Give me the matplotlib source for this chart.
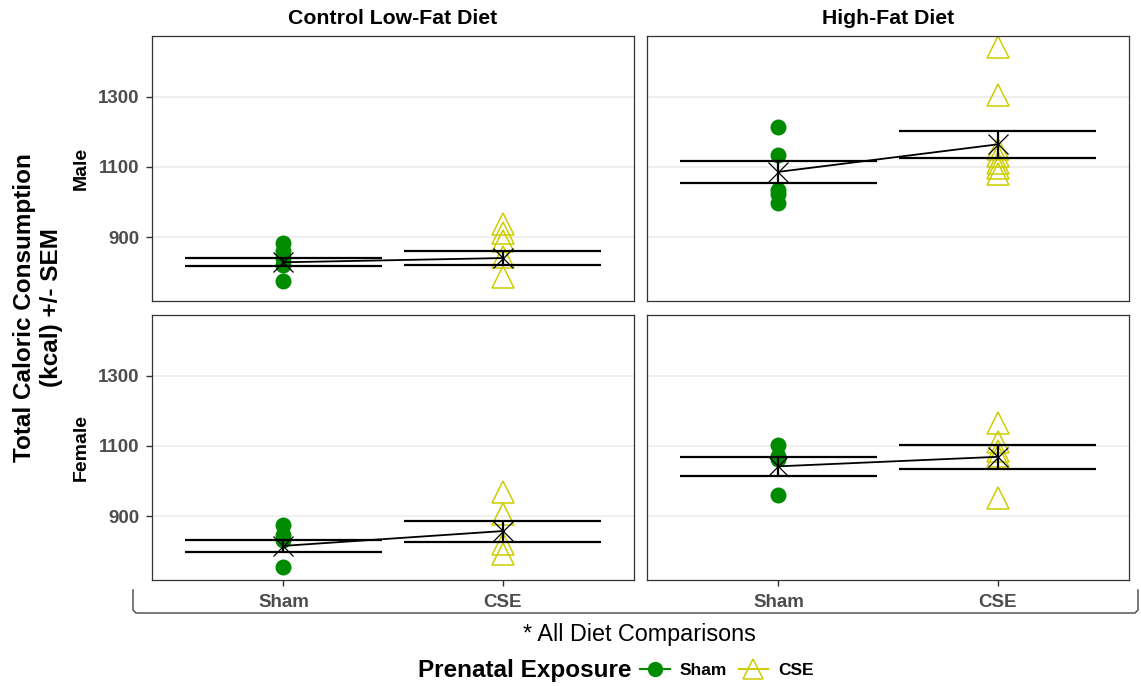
import numpy as np
import matplotlib
matplotlib.use("Agg")
import matplotlib.pyplot as plt
from matplotlib.lines import Line2D

plt.rcParams['font.family'] = ['Liberation Sans', 'DejaVu Sans']

# data
groups = ["Sham", "CSE"]
diets = ["Control Low-Fat Diet", "High-Fat Diet"]
sexes = ["Male", "Female"]

sham_lf_m = [885, 862, 842, 822, 776]
cse_lf_m = [937, 912, 890, 845, 786]
sham_hf_m = [1213, 1133, 1035, 1024, 997]
cse_hf_m = [1440, 1303, 1150, 1130, 1112, 1097, 1080]
sham_lf_f = [875, 848, 832, 755]
cse_lf_f = [968, 906, 820, 792]
sham_hf_f = [1103, 1070, 1062, 960]
cse_hf_f = [1165, 1112, 1085, 1072, 952]

# group means and SEM (from the X marks and bars)
mean_lf_m = [829, 841]
sem_lf_m = [11, 19]
mean_hf_m = [1086, 1164]
sem_hf_m = [31, 38]
mean_lf_f = [816, 858]
sem_lf_f = [17, 30]
mean_hf_f = [1042, 1069]
sem_hf_f = [27, 35]

yticks = [900, 1100, 1300]

GREEN = '#008B00'
YELLOW = '#CDCD00'
TXT = '#4D4D4D'

panels = {
    (0, 0): (sham_lf_m, cse_lf_m, mean_lf_m, sem_lf_m),
    (0, 1): (sham_hf_m, cse_hf_m, mean_hf_m, sem_hf_m),
    (1, 0): (sham_lf_f, cse_lf_f, mean_lf_f, sem_lf_f),
    (1, 1): (sham_hf_f, cse_hf_f, mean_hf_f, sem_hf_f),
}

W, H = 1141, 686
fig = plt.figure(figsize=(W / 100, H / 100), dpi=100)

lefts = [152, 647]
tops = [36, 315]
pw, ph = 482, 265

x = np.arange(1, len(groups) + 1)
for (r, c), (sham, cse, means, sems) in panels.items():
    ax = fig.add_axes([lefts[c] / W, 1 - (tops[r] + ph) / H, pw / W, ph / H])
    ax.set_xlim(0.4, 2.6)
    ax.set_ylim(719, 1472)
    for yv in yticks:
        ax.axhline(yv, color='#EBEBEB', lw=1.1, zorder=0)
    ax.plot(np.full(len(sham), x[0]), sham, 'o', color=GREEN, ms=11.5, mew=0, zorder=2)
    ax.plot(np.full(len(cse), x[1]), cse, '^', mfc='none', mec=YELLOW, ms=15.5, mew=1.1, zorder=2)
    means = np.array(means)
    sems = np.array(sems)
    ax.hlines(means - sems, x - 0.45, x + 0.45, color='black', lw=1.6, zorder=3)
    ax.hlines(means + sems, x - 0.45, x + 0.45, color='black', lw=1.6, zorder=3)
    ax.vlines(x, means - sems, means + sems, color='black', lw=1.6, zorder=3)
    ax.plot(x, means, color='black', lw=1.3, zorder=3)
    ax.plot(x, means, 'x', color='black', ms=14, mew=0.9, zorder=4)

    ax.set_xticks(x)
    ax.set_yticks(yticks)
    ax.tick_params(length=4, width=1, color='#333333', labelcolor=TXT, labelsize=13.5)
    for lab in ax.get_xticklabels() + ax.get_yticklabels():
        lab.set_fontweight('bold')
    if c == 0:
        ax.set_yticklabels([str(v) for v in yticks])
        ax.tick_params(axis='y', pad=5)
    else:
        ax.tick_params(axis='y', left=False, labelleft=False)
    if r == 1:
        ax.set_xticklabels(groups)
        ax.tick_params(axis='x', pad=6)
    else:
        ax.tick_params(axis='x', bottom=False, labelbottom=False)
    for sp in ax.spines.values():
        sp.set_color('#333333')
        sp.set_linewidth(0.9)

    if r == 0:
        fig.text((lefts[c] + pw / 2) / W, 1 - 19 / H, diets[c], ha='center', va='center',
                 fontsize=15.3, fontweight='bold')
    if c == 0:
        fig.text(81 / W, 1 - (tops[r] + ph / 2) / H, sexes[r], rotation=90, ha='center',
                 va='center', fontsize=14, fontweight='bold')

fig.text(38 / W, 1 - 308 / H, "Total Caloric Consumption\n(kcal) +/- SEM", rotation=90,
         ha='center', va='center', fontsize=17.5, fontweight='bold', multialignment='center',
         linespacing=1.25)

# bracket under the x axis
bx = np.array([133, 133, 136, 1135, 1138, 1138]) / W
by = 1 - np.array([590, 610, 613, 613, 610, 590]) / H
fig.add_artist(Line2D(bx, by, color='#555555', lw=1.1))

fig.text(639 / W, 1 - 634 / H, "* All Diet Comparisons", ha='center', va='center', fontsize=16.8)

fig.text(632 / W, 1 - 670 / H, "Prenatal Exposure", ha='right', va='center', fontsize=17.5,
         fontweight='bold')
handles = [
    Line2D([], [], color=GREEN, marker='o', ms=11, mew=0, lw=1.5),
    Line2D([], [], color=YELLOW, marker='^', mfc='none', mec=YELLOW, ms=14, mew=1.1, lw=1.5),
]
leg = fig.legend(handles, groups, loc='center left', bbox_to_anchor=(640 / W, 1 - 670 / H),
                 ncol=2, frameon=False, handlelength=1.7, handletextpad=0.6, columnspacing=0.65,
                 borderaxespad=0, borderpad=0, prop={'size': 12.5, 'weight': 'bold'})

fig.savefig("out.png", dpi=100, facecolor='white')
